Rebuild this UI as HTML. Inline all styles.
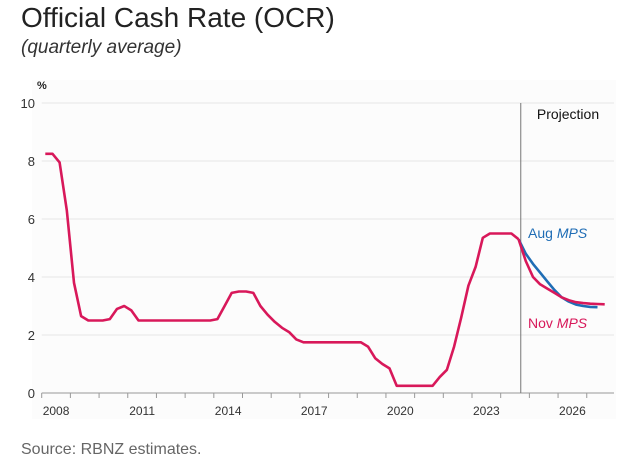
<!DOCTYPE html>
<html><head><meta charset="utf-8"><style>
body{margin:0;width:624px;height:471px;background:#fff;font-family:"Liberation Sans",sans-serif;overflow:hidden;position:relative}
#title{position:absolute;left:21px;top:2px;font-size:28px;color:#222}
#sub{position:absolute;left:21px;top:37px;font-size:19px;font-style:italic;color:#333}
#src{position:absolute;left:21px;top:441px;font-size:16px;color:#666}
svg{position:absolute;left:0;top:0}
</style></head><body>
<div id="title">Official Cash Rate (OCR)</div>
<div id="sub">(quarterly average)</div>
<svg id="c" width="624" height="471"></svg>
<div id="src">Source: RBNZ estimates.</div>
<script>
const histStart = 2008;
const histValues = [8.25,8.25,7.95,6.3, 3.8,2.65,2.5,2.5, 2.5,2.55,2.9,3.0, 2.85,2.5,2.5,2.5, 2.5,2.5,2.5,2.5, 2.5,2.5,2.5,2.5, 2.55,3.0,3.45,3.5, 3.5,3.45,3.0,2.7, 2.45,2.25,2.1,1.85, 1.75,1.75,1.75,1.75, 1.75,1.75,1.75,1.75, 1.75,1.6,1.2,1.0, 0.85,0.25,0.25,0.25, 0.25,0.25,0.25,0.55, 0.8,1.6,2.6,3.7, 4.35,5.35,5.5,5.5, 5.5,5.5,5.3];
const augValues = [5.3,4.8,4.45,4.15,3.85,3.55,3.3,3.15,3.05,3.0,2.97,2.96];
const novValues = [5.3,4.55,4.0,3.75,3.6,3.45,3.3,3.2,3.13,3.1,3.08,3.07,3.06];
const projStartYear = 2024.625;
const projectionLine = 2024.7;
const yTicks = [0,2,4,6,8,10];
const xLabels = [2008,2011,2014,2017,2020,2023,2026];
const xMin=2008,xMax=2027.95,yMin=0,yMax=10;
const L=41.7,R=614,T=103,B=393;
const sx=t=>L+(t-xMin)*(R-L)/(xMax-xMin);
const sy=v=>B-(v-yMin)*(B-T)/(yMax-yMin);
const svg=document.getElementById('c');const NS='http://www.w3.org/2000/svg';
function mk(tag,attrs,parent){const e=document.createElementNS(NS,tag);for(const k in attrs)e.setAttribute(k,attrs[k]);(parent||svg).appendChild(e);return e;}
const bg=mk('rect',{x:32,y:80,width:R-32+2,height:B-80+26,fill:'#fcfcfc'});


const pc=mk('text',{x:37,y:89,'font-size':11,fill:'#222','font-weight':'bold'});pc.textContent='%';


yTicks.forEach(v=>{
  if(v>0){const g=mk('line',{x1:L,x2:R,y1:sy(v),y2:sy(v),stroke:'#e6e6e6','stroke-width':1});
  
  }
  const t=mk('text',{x:35,y:sy(v)+5,'text-anchor':'end','font-size':13,fill:'#333'});t.textContent=v;
  
  
});
const ax=mk('line',{x1:L,x2:R,y1:B,y2:B,stroke:'#999','stroke-width':1});


for(let y=xMin;y<=2027;y++){const tk=mk('line',{x1:sx(y),x2:sx(y),y1:B,y2:B+5,stroke:'#999'});

}
xLabels.forEach(y=>{const t=mk('text',{x:sx(y+0.5),y:B+22,'text-anchor':'middle','font-size':12,fill:'#333'});t.textContent=y;

});
const pl=mk('line',{x1:sx(projectionLine),x2:sx(projectionLine),y1:T,y2:B,stroke:'#777','stroke-width':1});


const pt=mk('text',{x:568,y:119,'text-anchor':'middle','font-size':14,fill:'#111'});pt.textContent='Projection';


function path(vals,start,color,name){const d=vals.map((v,i)=>(i?'L':'M')+sx(start+i*0.25).toFixed(1)+','+sy(v).toFixed(1)).join('');
const p=mk('path',{d:d,fill:'none',stroke:color,'stroke-width':2.6,'stroke-linejoin':'round'});

}
path(augValues,projStartYear,'#1f6db5','aug-mps-line');
path(histValues,histStart+0.125,'#d8185a','historical-ocr-line');
path(novValues,projStartYear,'#d8185a','nov-mps-line');
const la=mk('text',{x:528,y:238,'font-size':14,fill:'#1f6db5'});la.innerHTML='Aug <tspan font-style="italic">MPS</tspan>';


const ln=mk('text',{x:528,y:328,'font-size':14,fill:'#d8185a'});ln.innerHTML='Nov <tspan font-style="italic">MPS</tspan>';


</script>
</body></html>
